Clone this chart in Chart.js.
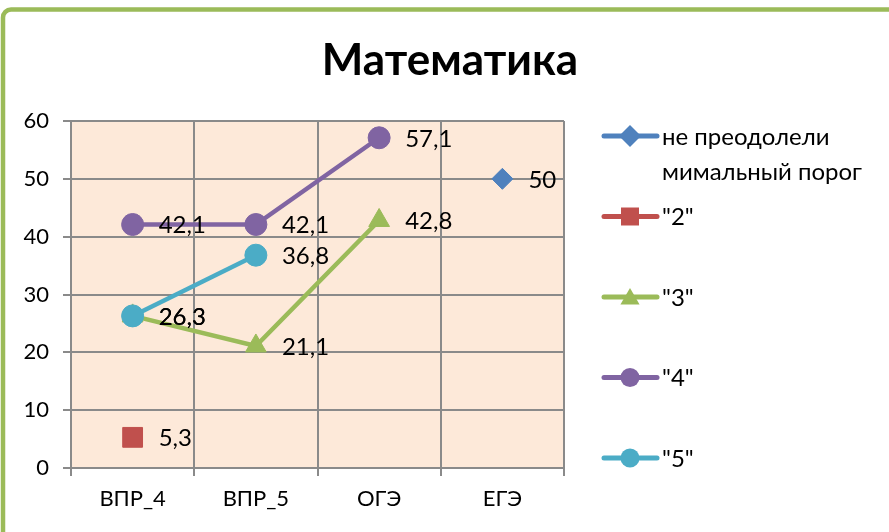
<!DOCTYPE html>
<html>
<head>
<meta charset="utf-8">
<style>
  html, body { margin: 0; padding: 0; background: #fff; }
  canvas { display: block; }
</style>
<script src="https://cdn.jsdelivr.net/npm/chart.js"></script>
</head>
<body>
<canvas id="chart" width="889" height="532"></canvas>
<script>
// Данные графика
const categories = ['ВПР_4', 'ВПР_5', 'ОГЭ', 'ЕГЭ'];
const seriesNames = [['не преодолели', 'мимальный порог'], ['"2"'], ['"3"'], ['"4"'], ['"5"']];
const notPassed = [null, null, null, 50];
const grade2 = [5.3, null, null, null];
const grade3 = [26.3, 21.1, 42.8, null];
const grade4 = [42.1, 42.1, 57.1, null];
const grade5 = [26.3, 36.8, null, null];
const yMin = 0, yMax = 60, yStep = 10;

const colors = ['#4F81BD', '#C0504D', '#9BBB59', '#8064A2', '#4BACC6'];
const styles = ['rectRot', 'rect', 'triangle', 'circle', 'circle'];
const radii = [10.5, 14, 12, 11, 11];
const gridColor = '#8a8a8a';
const plotBg = '#FDE9D9';
const FONT = 'Lato, "Liberation Sans", sans-serif';

function fmt(v) {
  return String(v).replace('.', ',');
}

const seriesData = [notPassed, grade2, grade3, grade4, grade5];

// последняя серия рисуется поверх
const datasets = seriesData.map((d, i) => ({
  label: seriesNames[i].join(' '),
  data: d,
  borderColor: colors[i],
  backgroundColor: colors[i],
  borderWidth: 4.5,
  pointStyle: styles[i],
  pointRadius: radii[i],
  pointHoverRadius: radii[i],
  pointBorderWidth: 1,
  order: seriesData.length - i,
  tension: 0
}));

// маркер для легенды
function marker(ctx, style, x, y, r, color) {
  ctx.fillStyle = color;
  ctx.beginPath();
  if (style === 'circle') {
    ctx.arc(x, y, r, 0, Math.PI * 2);
  } else if (style === 'rect') {
    ctx.rect(x - r, y - r, r * 2, r * 2);
  } else if (style === 'rectRot') {
    ctx.moveTo(x, y - r); ctx.lineTo(x + r, y); ctx.lineTo(x, y + r); ctx.lineTo(x - r, y);
  } else if (style === 'triangle') {
    ctx.moveTo(x, y - r); ctx.lineTo(x + r * 0.87, y + r * 0.5); ctx.lineTo(x - r * 0.87, y + r * 0.5);
  }
  ctx.closePath();
  ctx.fill();
}

const decor = {
  id: 'decor',
  beforeDraw(chart) {
    const { ctx, chartArea: a } = chart;
    ctx.save();
    ctx.fillStyle = '#fff';
    ctx.fillRect(0, 0, chart.width, chart.height);
    // зелёная рамка
    ctx.strokeStyle = '#9BBB59';
    ctx.lineWidth = 4.5;
    ctx.beginPath();
    ctx.roundRect(3, 9.5, chart.width + 30, chart.height + 30, 8);
    ctx.stroke();
    // фон области построения
    ctx.fillStyle = plotBg;
    ctx.fillRect(a.left, a.top, a.right - a.left, a.bottom - a.top);
    ctx.restore();
  },
  afterDatasetsDraw(chart) {
    const ctx = chart.ctx;
    ctx.save();
    ctx.fillStyle = '#000';
    ctx.font = '24px ' + FONT;
    ctx.textAlign = 'left';
    ctx.textBaseline = 'middle';
    chart.data.datasets.forEach((ds, i) => {
      const meta = chart.getDatasetMeta(i);
      meta.data.forEach((pt, j) => {
        const v = ds.data[j];
        if (v === null || v === undefined) return;
        ctx.fillText(fmt(v), pt.x + 26, pt.y + 1);
      });
    });
    ctx.restore();
  },
  afterDraw(chart) {
    const ctx = chart.ctx;
    ctx.save();
    // заголовок
    ctx.fillStyle = '#000';
    ctx.font = 'bold 44px ' + FONT;
    ctx.textAlign = 'center';
    ctx.textBaseline = 'middle';
    ctx.fillText('Математика', 450, 61);
    // легенда
    ctx.font = '24px ' + FONT;
    ctx.textAlign = 'left';
    seriesNames.forEach((name, i) => {
      const y = 136 + i * 80.5;
      ctx.strokeStyle = colors[i];
      ctx.lineWidth = 5;
      ctx.lineCap = 'round';
      ctx.beginPath();
      ctx.moveTo(604, y);
      ctx.lineTo(657, y);
      ctx.stroke();
      const r = styles[i] === 'rect' ? 9 : styles[i] === 'triangle' ? 11 : styles[i] === 'rectRot' ? 11 : 9.5;
      marker(ctx, styles[i], 630, y + (styles[i] === 'triangle' ? 2 : 0), r, colors[i]);
      ctx.fillStyle = '#000';
      name.forEach((line, k) => ctx.fillText(line, 662, y + 1 + k * 35));
    });
    ctx.restore();
  }
};

new Chart(document.getElementById('chart'), {
  type: 'line',
  data: { labels: categories, datasets: datasets },
  options: {
    responsive: false,
    animation: false,
    layout: { padding: { top: 121, right: 325, bottom: 0, left: 0 } },
    plugins: {
      legend: { display: false },
      title: { display: false },
      tooltip: { enabled: false }
    },
    scales: {
      x: {
        type: 'category',
        offset: true,
        grid: { color: gridColor, lineWidth: 2, tickLength: 8, offset: true },
        border: { color: gridColor, width: 2 },
        ticks: { color: '#000', font: { family: FONT, size: 22 }, padding: 10 },
        afterFit(scale) { scale.height = 64; }
      },
      y: {
        min: yMin,
        max: yMax,
        grid: { color: gridColor, lineWidth: 2, tickLength: 8 },
        border: { color: gridColor, width: 2 },
        ticks: { stepSize: yStep, color: '#000', font: { family: FONT, size: 22 }, padding: 14 },
        afterFit(scale) { scale.width = 71; }
      }
    }
  },
  plugins: [decor]
});
</script>
</body>
</html>
